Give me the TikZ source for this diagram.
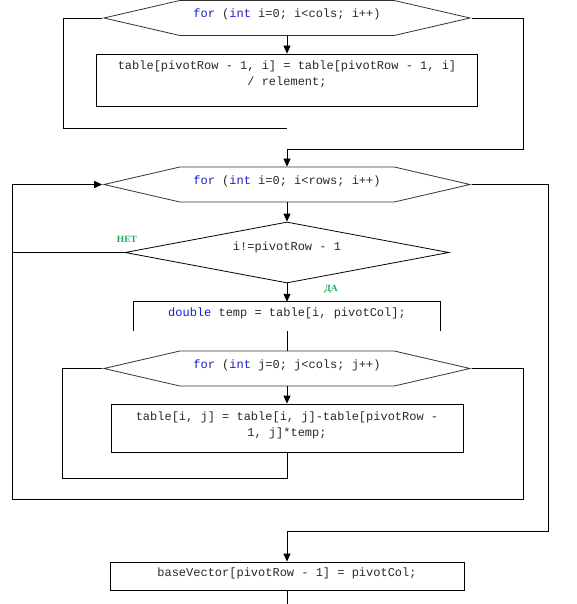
\documentclass[tikz,border=0pt]{standalone}
\usepackage{fontspec}
\setmonofont{Liberation Mono}
\newfontfamily\lblfont{Liberation Serif}
\usepackage{tikz}
\usetikzlibrary{shapes.symbols}
\usetikzlibrary{shapes.geometric}
\usetikzlibrary{arrows.meta}

\definecolor{kwblue}{RGB}{28,28,205}
\definecolor{codegray}{RGB}{40,40,40}
\definecolor{yesgreen}{RGB}{30,170,95}
\newcommand{\kw}[1]{\textcolor{kwblue}{#1}}

\begin{document}
\begin{tikzpicture}[x=1pt,y=-1pt,
  code/.style={font=\ttfamily\fontsize{12}{16}\selectfont, text=codegray,
    text height=9pt, text depth=9pt},
  loophex/.style={code, draw=black!80, line width=0.8pt, signal,
    signal to=west and east, signal pointer angle=26,
    minimum width=366pt, minimum height=35pt, inner sep=0pt},
  actbox/.style={code, draw, line width=0.8pt, inner sep=0pt, align=center},
  cond/.style={code, draw, line width=0.8pt, diamond, aspect=5.3,
    minimum width=324pt, minimum height=61pt, inner sep=0pt, text depth=13pt},
  flow/.style={line width=0.8pt},
  flowarr/.style={flow, -{Triangle[length=8pt,width=7pt]}},
  branch/.style={font=\lblfont\bfseries\fontsize{9.5}{10}\selectfont, text=yesgreen}]

\useasboundingbox (0,0) rectangle (576,604);

\node[loophex] (colsloop) at (287,18) {\kw{for} (\kw{int} i=0; i<cols; i++)};
\node[actbox, minimum width=381pt, minimum height=52pt, text height=25pt, text depth=13pt] (normrow) at (287,80)
  {table[pivotRow - 1, i] = table[pivotRow - 1, i]\\ / relement;};

\node[loophex] (rowsloop) at (287,184.5) {\kw{for} (\kw{int} i=0; i<rows; i++)};
\node[cond] (pivotcheck) at (287,252.5) {i!=pivotRow - 1};
\node[code, inner sep=0pt, minimum width=307pt, minimum height=29pt] (tempbox) at (287,316.5)
  {\kw{double} temp = table[i, pivotCol];};
\draw[flow] (tempbox.south west) |- (tempbox.north east) -- (tempbox.south east);

\node[loophex] (jloop) at (287,368.5) {\kw{for} (\kw{int} j=0; j<cols; j++)};
\node[actbox, minimum width=352pt, minimum height=48pt, text height=25pt, text depth=9pt] (subrow) at (287,428)
  {table[i, j] = table[i, j]-table[pivotRow -\\ 1, j]*temp;};

\node[actbox, minimum width=354pt, minimum height=28pt] (basevec) at (287,576)
  {baseVector[pivotRow - 1] = pivotCol;};

\coordinate (colsback) at (63,128);
\coordinate (colsend) at (287,128);
\coordinate (colsexit) at (523,149);
\coordinate (jback) at (62,478);
\coordinate (jexit) at (523,499);
\coordinate (rowsback) at (12,499);
\coordinate (rowsexit) at (548,531);
\coordinate (tail) at (287,604);

% cols loop
\draw[flow] (colsloop.west) -| (colsback) -- (colsend);
\draw[flowarr] (colsloop.south) -- (normrow.north);
\draw[flowarr] (colsloop.east) -| (colsexit) -| (rowsloop.north);

% rows loop
\draw[flowarr] (rowsloop.south) -- (pivotcheck.north);
\draw[flow] (pivotcheck.west) -- (pivotcheck.west -| rowsback);
\node[branch] (nolbl) at (127,239) {НЕТ};
\draw[flowarr] (pivotcheck.south) -- (tempbox.north);
\node[branch] (yeslbl) at (331,289) {ДА};
\draw[flow] (tempbox.south) -- (jloop.north);

% j loop
\draw[flowarr] (jloop.south) -- (subrow.north);
\draw[flow] (jloop.west) -| (jback) -| (subrow.south);
\draw[flowarr] (jloop.east) -| (jexit) -- (rowsback) |- (rowsloop.west);

\draw[flowarr] (rowsloop.east) -| (rowsexit) -| (basevec.north);
\draw[flow] (basevec.south) -- (tail);
\end{tikzpicture}
\end{document}
